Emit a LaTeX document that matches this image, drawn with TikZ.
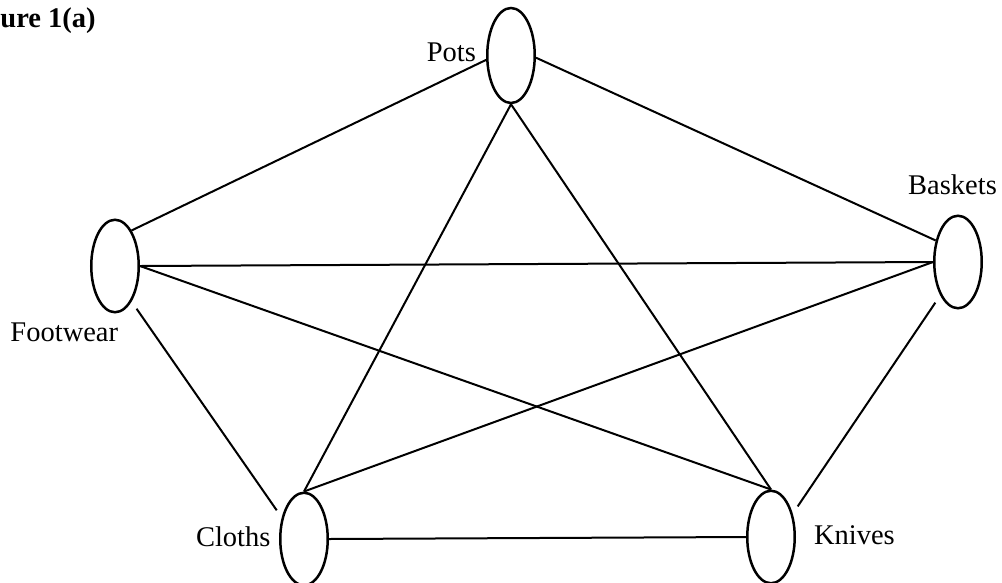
\documentclass[tikz,border=0pt]{standalone}
\usepackage{fontspec}
\setmainfont{Liberation Serif}
\usetikzlibrary{shapes.geometric, positioning}

\begin{document}
\begin{tikzpicture}[
        x=0.4pt, y=-0.4pt,
        vertex/.style={ellipse, draw, line width=1pt, inner sep=0pt, minimum width=19pt, minimum height=37pt},
        txt/.style={inner sep=0pt, font=\fontsize{11.4}{13}\selectfont},
        link/.style={line width=0.8pt},
        gap/.style={shorten <=3.5pt, shorten >=3.5pt}
    ]
        \useasboundingbox (0,0) rectangle (1002,582);

        \node[vertex, minimum height=38pt] (pots) at (511,55.5) {};
        \node[vertex] (footwear) at (115,266) {};
        \node[vertex] (baskets) at (958,262) {};
        \node[vertex] (cloths) at (304,539) {};
        \node[vertex] (knives) at (771,537) {};

        \node[txt, left=3.8pt of pots, yshift=1.2pt] (potslbl) {Pots};
        \node[txt, anchor=base west] (footwearlbl) at (10,341) {Footwear};
        \node[txt, above=7.6pt of baskets, xshift=-2.2pt] (basketslbl) {Baskets};
        \node[txt, left=3.2pt of cloths, yshift=0.8pt] (clothslbl) {Cloths};
        \node[txt, right=7pt of knives, yshift=0.6pt] (kniveslbl) {Knives};
        \node[txt, anchor=base west, font=\fontsize{11.4}{13}\selectfont\bfseries] (title) at (0,27) {ure 1(a)};

        \draw[link] (footwear.65) -- (pots.190);
        \draw[link] (pots.355) -- (baskets.136);
        \draw[link] (pots.south) -- (cloths.north);
        \draw[link] (pots.south) -- (knives.north);
        \draw[link] (footwear.east) -- (baskets.west);
        \draw[link] (footwear.east) -- (knives.north);
        \draw[link, gap] (footwear.295) -- (cloths.136);
        \draw[link] (cloths.north) -- (baskets.west);
        \draw[link, gap] (knives.47) -- (baskets.242);
        \draw[link] (cloths.east) -- (knives.west);
    \end{tikzpicture}
\end{document}
